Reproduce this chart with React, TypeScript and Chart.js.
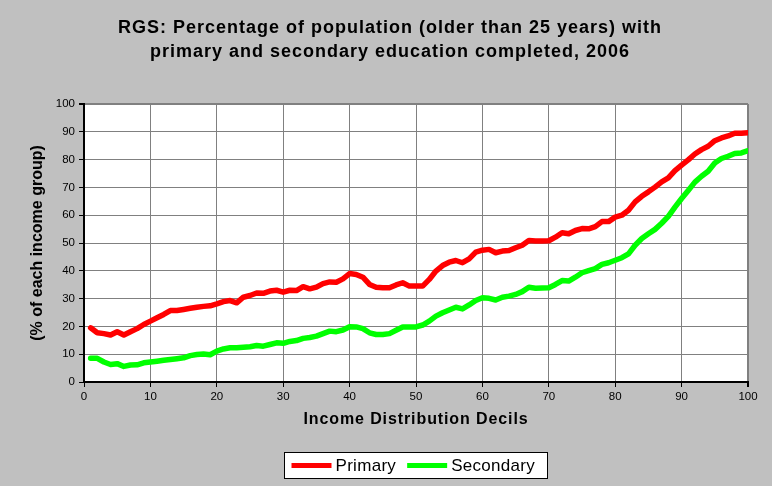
import React, { useEffect, useRef } from "react";
import { Chart, registerables } from "chart.js";

Chart.register(...registerables);

const titleLines = [
  "RGS: Percentage of population (older than 25 years) with",
  "primary and secondary education completed, 2006",
];
const xTitle = "Income Distribution Decils";
const yTitle = "(% of each income group)";

const percentiles = [
  1, 2, 3, 4, 5, 6, 7, 8, 9, 10, 11, 12, 13, 14, 15, 16, 17, 18, 19, 20,
  21, 22, 23, 24, 25, 26, 27, 28, 29, 30, 31, 32, 33, 34, 35, 36, 37, 38, 39, 40,
  41, 42, 43, 44, 45, 46, 47, 48, 49, 50, 51, 52, 53, 54, 55, 56, 57, 58, 59, 60,
  61, 62, 63, 64, 65, 66, 67, 68, 69, 70, 71, 72, 73, 74, 75, 76, 77, 78, 79, 80,
  81, 82, 83, 84, 85, 86, 87, 88, 89, 90, 91, 92, 93, 94, 95, 96, 97, 98, 99, 100,
];

const primary = [
  19.5, 17.7, 17.4, 16.9, 18.1, 16.9, 18.1, 19.2, 20.7, 21.9,
  23.1, 24.3, 25.7, 25.7, 26.1, 26.5, 26.9, 27.2, 27.4, 28.1,
  28.9, 29.3, 28.5, 30.5, 31.1, 32.0, 31.9, 32.7, 33.0, 32.3,
  33.0, 32.9, 34.3, 33.5, 34.1, 35.4, 36.0, 35.9, 37.1, 39.0,
  38.7, 37.7, 35.1, 34.1, 33.9, 33.9, 34.9, 35.7, 34.5, 34.5,
  34.5, 36.9, 39.9, 41.9, 43.1, 43.7, 42.9, 44.3, 46.7, 47.4,
  47.7, 46.5, 47.1, 47.3, 48.3, 49.2, 50.9, 50.7, 50.7, 50.8,
  52.1, 53.7, 53.3, 54.5, 55.2, 55.1, 55.9, 57.7, 57.7, 59.3,
  60.0, 61.8, 64.8, 66.8, 68.4, 70.1, 72.0, 73.4, 76.0, 78.0,
  79.9, 82.0, 83.6, 84.8, 86.8, 87.8, 88.5, 89.5, 89.5, 89.7,
];

const secondary = [
  8.5, 8.5, 7.2, 6.3, 6.6, 5.6, 6.1, 6.2, 6.9, 7.2,
  7.5, 7.8, 8.1, 8.4, 8.7, 9.5, 9.9, 10.1, 9.8, 11.1,
  11.9, 12.3, 12.3, 12.5, 12.7, 13.1, 12.9, 13.5, 14.1, 13.9,
  14.6, 14.9, 15.7, 16.0, 16.5, 17.4, 18.3, 18.1, 18.7, 19.9,
  19.8, 19.2, 17.7, 17.1, 17.1, 17.4, 18.6, 19.8, 19.8, 19.8,
  20.5, 21.9, 23.7, 24.9, 25.9, 26.9, 26.3, 27.7, 29.3, 30.3,
  30.1, 29.5, 30.5, 30.9, 31.5, 32.5, 34.1, 33.7, 33.8, 33.9,
  35.1, 36.5, 36.3, 37.7, 39.3, 40.1, 40.8, 42.3, 42.9, 43.8,
  44.7, 46.1, 49.2, 51.6, 53.3, 54.9, 57.1, 59.6, 62.9, 66.0,
  68.9, 71.9, 74.0, 75.8, 78.8, 80.4, 81.2, 82.2, 82.4, 83.2,
];

const seriesNames = ["Primary", "Secondary"];
const seriesColors = ["#ff0000", "#00ff00"];

const FONT = "'Liberation Sans', Arial, sans-serif";

const bgPlugin = {
  id: "bgPlugin",
  beforeDraw(chart: any) {
    const { ctx, chartArea, width, height } = chart;
    ctx.save();
    ctx.fillStyle = "#c0c0c0";
    ctx.fillRect(0, 0, width, height);
    ctx.fillStyle = "#ffffff";
    ctx.fillRect(chartArea.left, chartArea.top, chartArea.right - chartArea.left, chartArea.bottom - chartArea.top);
    ctx.restore();
  },
};

const textPlugin = {
  id: "textPlugin",
  afterDraw(chart: any) {
    const { ctx, chartArea } = chart;
    ctx.save();
    ctx.fillStyle = "#000000";
    ctx.textAlign = "center";
    ctx.textBaseline = "middle";
    ctx.font = `bold 18px ${FONT}`;
    (ctx as any).letterSpacing = "1px";
    titleLines.forEach((line, i) => {
      ctx.fillText(line, 390, 28.5 + i * 24);
    });
    ctx.font = `bold 16px ${FONT}`;
    (ctx as any).letterSpacing = "0.9px";
    ctx.fillText(xTitle, (chartArea.left + chartArea.right) / 2, chartArea.bottom + 38);
    (ctx as any).letterSpacing = "0px";
    ctx.restore();
  },
};

const boxLegend = {
  id: "boxLegend",
  afterDraw(chart: any) {
    const { ctx } = chart;
    const boxX = 284.5, boxY = 452.5, boxW = 263, boxH = 26;
    ctx.save();
    ctx.fillStyle = "#ffffff";
    ctx.fillRect(boxX, boxY, boxW, boxH);
    ctx.strokeStyle = "#000000";
    ctx.lineWidth = 1;
    ctx.strokeRect(boxX, boxY, boxW, boxH);
    ctx.font = `17px ${FONT}`;
    (ctx as any).letterSpacing = "0.3px";
    ctx.textBaseline = "middle";
    let x = boxX + 7;
    const cy = boxY + boxH / 2;
    chart.data.datasets.forEach((ds: any) => {
      ctx.strokeStyle = ds.borderColor;
      ctx.lineWidth = 5;
      ctx.beginPath();
      ctx.moveTo(x, cy);
      ctx.lineTo(x + 40, cy);
      ctx.stroke();
      x += 44;
      ctx.fillStyle = "#000000";
      ctx.fillText(ds.label, x, cy + 1);
      x += ctx.measureText(ds.label).width + 11;
    });
    (ctx as any).letterSpacing = "0px";
    ctx.restore();
  },
};

export default function App() {
  const ref = useRef<HTMLCanvasElement | null>(null);

  useEffect(() => {
    document.body.style.margin = "0";
    const canvas = ref.current;
    if (!canvas) return;
    const mk = (vals: number[]) => percentiles.map((p, i) => ({ x: p, y: vals[i] }));
    const chart = new Chart(canvas, {
      type: "line",
      data: {
        datasets: [
          {
            label: seriesNames[0],
            data: mk(primary),
            borderColor: seriesColors[0],
            backgroundColor: seriesColors[0],
            borderWidth: 5.5,
            pointRadius: 0,
            tension: 0,
            borderJoinStyle: "round",
            borderCapStyle: "round",
          },
          {
            label: seriesNames[1],
            data: mk(secondary),
            borderColor: seriesColors[1],
            backgroundColor: seriesColors[1],
            borderWidth: 5.5,
            pointRadius: 0,
            tension: 0,
            borderJoinStyle: "round",
            borderCapStyle: "round",
          },
        ],
      },
      options: {
        responsive: false,
        animation: false,
        layout: { padding: { left: 0, right: 24, top: 104, bottom: 50 } },
        plugins: {
          legend: { display: false },
          tooltip: { enabled: false },
          title: { display: false },
        },
        scales: {
          x: {
            type: "linear",
            min: 0,
            max: 100,
            afterFit(scale: any) {
              scale.height = 54;
            },
            ticks: {
              stepSize: 10,
              color: "#000000",
              padding: 3,
              maxRotation: 0,
              font: { family: FONT, size: 11.5 },
            },
            grid: {
              color: "#808080",
              lineWidth: (c: any) => (c.tick && c.tick.value === 100 ? 2 : 1),
              tickColor: "#000000",
              tickLength: 5,
            },
            border: { color: "#000000", width: 2 },
            title: { display: false },
          },
          y: {
            min: 0,
            max: 100,
            afterFit(scale: any) {
              scale.width = 84;
            },
            ticks: {
              stepSize: 10,
              color: "#000000",
              padding: 4,
              font: { family: FONT, size: 11.5 },
            },
            grid: {
              color: "#808080",
              lineWidth: (c: any) => (c.tick && c.tick.value === 100 ? 2 : 1),
              tickColor: "#000000",
              tickLength: 5,
            },
            border: { color: "#000000", width: 2 },
            title: {
              display: true,
              text: yTitle,
              color: "#000000",
              font: { family: FONT, size: 16, weight: "bold", lineHeight: 1.2 },
              padding: { top: 28.4, bottom: 0 },
            },
          },
        },
      },
      plugins: [bgPlugin, textPlugin, boxLegend],
    });
    return () => chart.destroy();
  }, []);

  return (
    <div style={{ position: "fixed", left: 0, top: 0, width: 772, height: 486 }}>
      <canvas ref={ref} width={772} height={486} style={{ width: 772, height: 486, display: "block" }} />
    </div>
  );
}
